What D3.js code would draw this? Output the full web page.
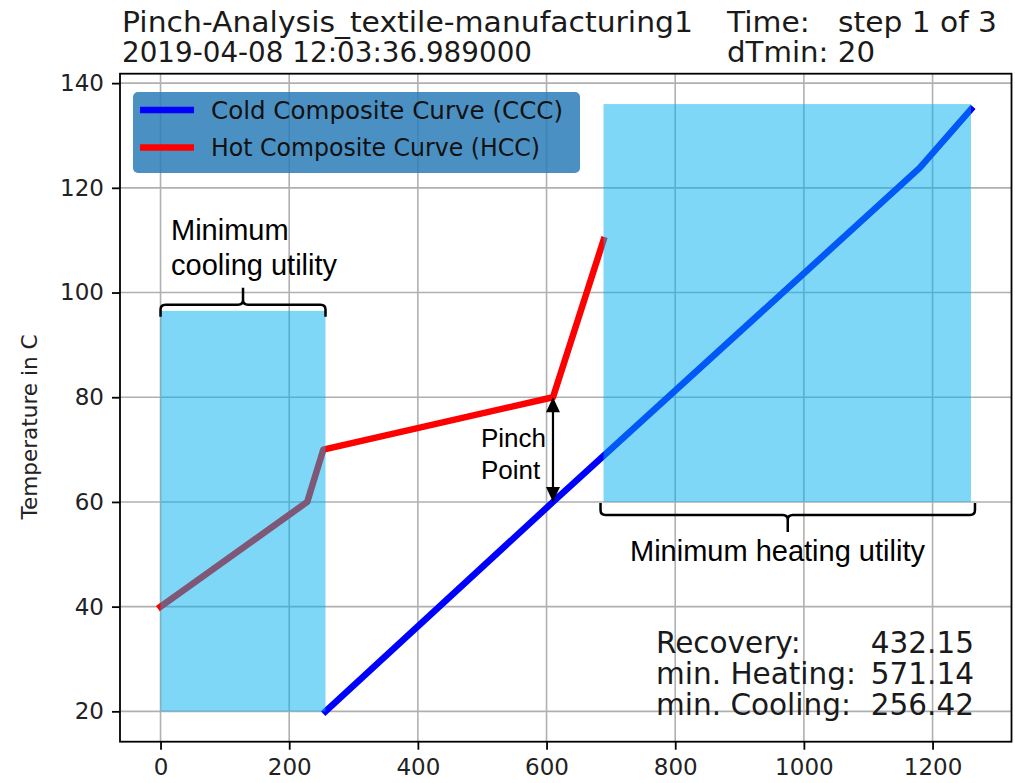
<!DOCTYPE html>
<html>
<head>
<meta charset="utf-8">
<script src="https://cdn.jsdelivr.net/npm/d3@7"></script>
<style>
  html, body { margin: 0; padding: 0; background: #fff; }
  svg { display: block; }
</style>
</head>
<body>
<svg id="chart" width="1015" height="783"></svg>
<script>
// Composite curves: enthalpy flow (x) against temperature in C (y)
const hotH  = [0, 228, 253, 610, 688.57];
const hotT  = [40, 60, 70, 80, 110];
const coldH = [256.42, 610, 1180, 1259.71];
const coldT = [20, 60, 123.8, 135];

// Utility bands: [x0, x1, y0, y1]
const coolingBand = [0, 256.42, 20, 96.5];
const heatingBand = [688.57, 1259.71, 60, 136];

// Pinch: hot and cold temperature at the pinch enthalpy
const pinchH = 610;
const pinchHotT = 80;
const pinchColdT = 60;

const xTicks = [0, 200, 400, 600, 800, 1000, 1200];
const yTicks = [20, 40, 60, 80, 100, 120, 140];

const titleLeft = ["Pinch-Analysis_textile-manufacturing1", "2019-04-08 12:03:36.989000"];
const titleRight = ["Time:   step 1 of 3", "dTmin: 20"];
const seriesNames = ["Cold Composite Curve (CCC)", "Hot Composite Curve (HCC)"];
const summaryLabels = ["Recovery:", "min. Heating:", "min. Cooling:"];
const summaryValues = [432.15, 571.14, 256.42];

const svg = d3.select("#chart");
const plot = { left: 120, right: 1011.5, top: 73.7, bottom: 741.7 };

const x = d3.scaleLinear().domain([-63, 1322.7]).range([plot.left, plot.right]);
const y = d3.scaleLinear().domain([14.2, 141.8]).range([plot.bottom, plot.top]);

const mpl = "DejaVu Sans, sans-serif";
const arial = "Liberation Sans, Arial, sans-serif";

// grid
const grid = svg.append("g");
grid.selectAll("line.gx").data(xTicks).join("line")
  .attr("x1", d => x(d)).attr("x2", d => x(d))
  .attr("y1", plot.top).attr("y2", plot.bottom)
  .attr("stroke", "#b0b0b0").attr("stroke-width", 1.6);
grid.selectAll("line.gy").data(yTicks).join("line")
  .attr("y1", d => y(d)).attr("y2", d => y(d))
  .attr("x1", plot.left).attr("x2", plot.right)
  .attr("stroke", "#b0b0b0").attr("stroke-width", 1.6);

// curves
const line = d3.line().x(d => x(d[0])).y(d => y(d[1]));
const coldPts = coldH.map((h, i) => [h, coldT[i]]);
const hotPts = hotH.map((h, i) => [h, hotT[i]]);

svg.append("path").datum(coldPts).attr("d", line)
  .attr("fill", "none").attr("stroke", "#0000ff").attr("stroke-width", 6.5)
  .attr("stroke-linecap", "square").attr("stroke-linejoin", "round");
svg.append("path").datum(hotPts).attr("d", line)
  .attr("fill", "none").attr("stroke", "#ff0000").attr("stroke-width", 6.5)
  .attr("stroke-linecap", "square").attr("stroke-linejoin", "round");

// utility bands (translucent, over curves and grid)
[coolingBand, heatingBand].forEach(b => {
  svg.append("rect")
    .attr("x", x(b[0])).attr("y", y(b[3]))
    .attr("width", x(b[1]) - x(b[0])).attr("height", y(b[2]) - y(b[3]))
    .attr("fill", "#00b0f0").attr("fill-opacity", 0.5);
});

// axes frame
svg.append("rect")
  .attr("x", plot.left).attr("y", plot.top)
  .attr("width", plot.right - plot.left).attr("height", plot.bottom - plot.top)
  .attr("fill", "none").attr("stroke", "#000").attr("stroke-width", 1.8);

// axes
const xAxis = d3.axisBottom(x).tickValues(xTicks).tickSize(8).tickPadding(9).tickFormat(d3.format("d"));
const yAxis = d3.axisLeft(y).tickValues(yTicks).tickSize(8).tickPadding(8).tickFormat(d3.format("d"));
const gx = svg.append("g").attr("transform", `translate(0,${plot.bottom})`).call(xAxis);
const gy = svg.append("g").attr("transform", `translate(${plot.left},0)`).call(yAxis);
[gx, gy].forEach(g => {
  g.select(".domain").remove();
  g.selectAll(".tick line").attr("stroke", "#000").attr("stroke-width", 1.8);
  g.selectAll(".tick text").attr("fill", "#222").style("font-family", mpl).style("font-size", "23px");
});

svg.append("text")
  .attr("transform", `translate(37,427) rotate(-90)`)
  .attr("text-anchor", "middle")
  .attr("textLength", 185).attr("lengthAdjust", "spacingAndGlyphs")
  .style("font-family", mpl).style("font-size", "22px").attr("fill", "#222")
  .text("Temperature in C");

// title block
const titleLeftWidths = [571, 410];
const titleRightWidths = [270, 148];
titleLeft.forEach((t, i) => {
  svg.append("text").attr("x", 122).attr("y", 32 + i * 30)
    .attr("textLength", titleLeftWidths[i]).attr("lengthAdjust", "spacingAndGlyphs")
    .style("font-family", mpl).style("font-size", "28.5px").attr("fill", "#1a1a1a")
    .text(t);
});
titleRight.forEach((t, i) => {
  svg.append("text").attr("x", 727).attr("y", 32 + i * 30)
    .attr("xml:space", "preserve")
    .attr("textLength", titleRightWidths[i]).attr("lengthAdjust", "spacingAndGlyphs")
    .style("font-family", mpl).style("font-size", "28.5px").attr("fill", "#1a1a1a")
    .text(t);
});

// legend
const lg = svg.append("g");
lg.append("rect").attr("x", 133).attr("y", 92).attr("width", 447).attr("height", 81)
  .attr("rx", 5).attr("fill", "#2c7cb8").attr("fill-opacity", 0.85);
const legendColors = ["#0000ff", "#ff0000"];
const legendWidths = [352, 329];
seriesNames.forEach((name, i) => {
  const ly = 110 + i * 37.5;
  lg.append("line").attr("x1", 140).attr("x2", 194).attr("y1", ly).attr("y2", ly)
    .attr("stroke", legendColors[i]).attr("stroke-width", 6.5);
  lg.append("text").attr("x", 211).attr("y", ly + 8.5)
    .attr("textLength", legendWidths[i]).attr("lengthAdjust", "spacingAndGlyphs")
    .style("font-family", mpl).style("font-size", "24.5px").attr("fill", "#111")
    .text(name);
});

// braces
function brace(x0, x1, yb, dir) {
  // dir = -1: tip points up, ends curl down; dir = 1: tip points down, ends curl up
  const xm = (x0 + x1) / 2;
  const e = 12, t = 17, r = 5;
  return `M${x0},${yb - dir * e} L${x0},${yb - dir * r} Q${x0},${yb} ${x0 + r},${yb} ` +
         `L${xm - r},${yb} Q${xm},${yb} ${xm},${yb + dir * r} L${xm},${yb + dir * t} ` +
         `M${xm},${yb + dir * r} Q${xm},${yb} ${xm + r},${yb} L${x1 - r},${yb} Q${x1},${yb} ${x1},${yb - dir * r} L${x1},${yb - dir * e}`;
}
svg.append("path")
  .attr("d", brace(x(coolingBand[0]), x(coolingBand[1]), y(coolingBand[3]) - 6, -1))
  .attr("fill", "none").attr("stroke", "#000").attr("stroke-width", 2.5);
svg.append("path")
  .attr("d", brace(x(heatingBand[0]) - 3, x(heatingBand[1]) + 4, y(heatingBand[2]) + 13, 1))
  .attr("fill", "none").attr("stroke", "#000").attr("stroke-width", 2.5);

// annotation texts
const annot = (tx, ty, s, size) => svg.append("text").attr("x", tx).attr("y", ty)
  .style("font-family", arial).style("font-size", size).attr("fill", "#000").text(s);
annot(171, 240, "Minimum", "29px");
annot(171, 275, "cooling utility", "29px");
annot(630, 561, "Minimum heating utility", "29px");
annot(481, 447, "Pinch", "26px");
annot(481, 479, "Point", "26px");

// pinch arrow
const px = x(pinchH), pTop = y(pinchHotT), pBot = y(pinchColdT);
svg.append("line").attr("x1", px).attr("x2", px).attr("y1", pTop + 10).attr("y2", pBot - 10)
  .attr("stroke", "#000").attr("stroke-width", 2.2);
svg.append("path").attr("d", `M${px},${pTop} L${px - 7},${pTop + 15} L${px + 7},${pTop + 15} Z`).attr("fill", "#000");
svg.append("path").attr("d", `M${px},${pBot} L${px - 7},${pBot - 15} L${px + 7},${pBot - 15} Z`).attr("fill", "#000");

// summary
summaryLabels.forEach((s, i) => {
  const by = 653 + i * 31;
  svg.append("text").attr("x", 656).attr("y", by)
    .style("font-family", mpl).style("font-size", "29.5px").attr("fill", "#1a1a1a").text(s);
  svg.append("text").attr("x", 974).attr("y", by).attr("text-anchor", "end")
    .style("font-family", mpl).style("font-size", "29.5px").attr("fill", "#1a1a1a")
    .text(summaryValues[i].toFixed(2));
});
</script>
</body>
</html>
